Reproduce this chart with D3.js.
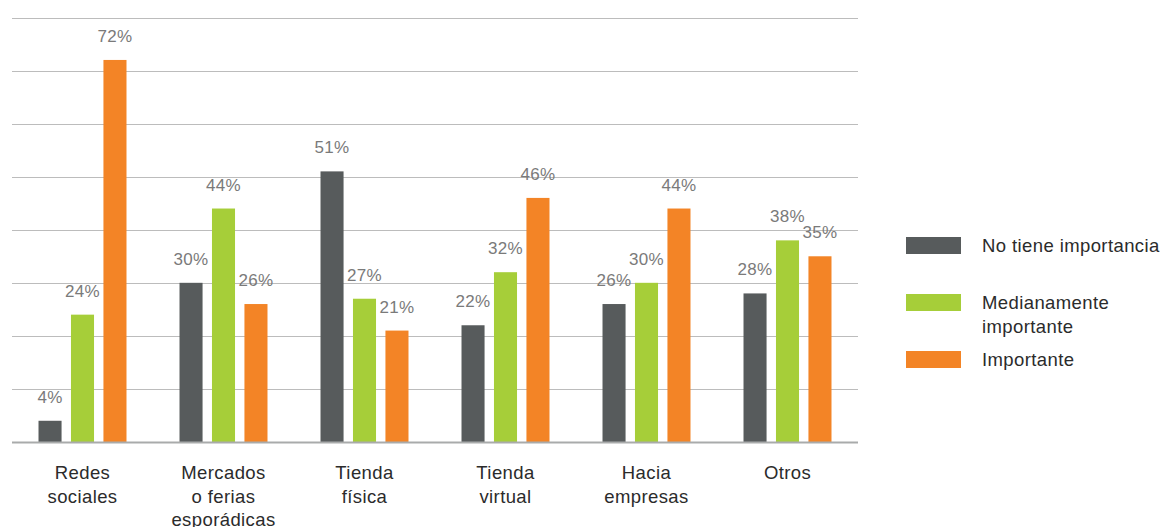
<!DOCTYPE html>
<html>
<head>
<meta charset="utf-8">
<script src="https://cdn.jsdelivr.net/npm/d3@7"></script>
<style>
  html, body { margin: 0; padding: 0; background: #fff; }
  svg, svg text { font-family: "Liberation Sans", Arimo, Arial, Helvetica, sans-serif; }
  svg { display: block; }
</style>
</head>
<body>
<svg id="chart" width="1164" height="527"></svg>
<script>
// Sales channels and the importance given to each
const categories = [
  ["Redes", "sociales"],
  ["Mercados", "o ferias", "esporádicas"],
  ["Tienda", "física"],
  ["Tienda", "virtual"],
  ["Hacia", "empresas"],
  ["Otros"]
];
const seriesNames = ["No tiene importancia", "Medianamente importante", "Importante"];
const legendLines = [["No tiene importancia"], ["Medianamente", "importante"], ["Importante"]];
const noImportancia = [4, 30, 51, 22, 26, 28];
const medianamente = [24, 44, 27, 32, 30, 38];
const importante = [72, 26, 21, 46, 44, 35];
const gridTicks = [0, 10, 20, 30, 40, 50, 60, 70, 80];
const colors = ["#575b5c", "#a6ce39", "#f38426"];

const values = [noImportancia, medianamente, importante];
const fontStack = "'Liberation Sans', Arimo, Arial, Helvetica, sans-serif";
const svg = d3.select("#chart").attr("font-family", fontStack);

const plotLeft = 12, plotRight = 858, plotTop = 17.5, plotBottom = 442;

const x0 = d3.scaleBand()
  .domain(d3.range(categories.length))
  .range([plotLeft, plotRight])
  .paddingInner(0.376)
  .paddingOuter(0.188);

const x1 = d3.scaleBand()
  .domain(d3.range(seriesNames.length))
  .range([0, x0.bandwidth()])
  .paddingInner(0.29)
  .paddingOuter(0);

const y = d3.scaleLinear().domain([0, 80]).range([plotBottom, plotTop]);

// Horizontal gridlines
svg.append("g")
  .selectAll("line")
  .data(gridTicks.filter(t => t > 0))
  .join("line")
  .attr("x1", plotLeft).attr("x2", plotRight)
  .attr("y1", d => Math.round(y(d)) + 0.5)
  .attr("y2", d => Math.round(y(d)) + 0.5)
  .attr("stroke", "#bcbcbc")
  .attr("stroke-width", 1.2);

// Bars
const groups = svg.append("g")
  .selectAll("g")
  .data(categories.map((c, i) => i))
  .join("g")
  .attr("transform", i => `translate(${x0(i)},0)`);

groups.selectAll("rect")
  .data(i => values.map((s, k) => ({ k, v: s[i] })))
  .join("rect")
  .attr("x", d => x1(d.k))
  .attr("width", x1.bandwidth())
  .attr("y", d => y(d.v))
  .attr("height", d => y(0) - y(d.v))
  .attr("fill", d => colors[d.k]);

groups.selectAll("text.val")
  .data(i => values.map((s, k) => ({ k, v: s[i] })))
  .join("text")
  .attr("class", "val")
  .attr("x", d => x1(d.k) + x1.bandwidth() / 2)
  .attr("y", d => y(d.v) - 18)
  .attr("text-anchor", "middle")
  .attr("font-size", 17)
  .attr("letter-spacing", 0.3)
  .attr("fill", "#7a7a7a")
  .text(d => d.v + "%");

// Baseline
svg.append("line")
  .attr("x1", plotLeft).attr("x2", plotRight)
  .attr("y1", plotBottom + 0.5).attr("y2", plotBottom + 0.5)
  .attr("stroke", "#a9abab")
  .attr("stroke-width", 2);

// Category labels
const catLabels = svg.append("g")
  .selectAll("text")
  .data(categories)
  .join("text")
  .attr("text-anchor", "middle")
  .attr("font-size", 18.5)
  .attr("letter-spacing", 0.4)
  .attr("fill", "#2b2b2b")
  .attr("transform", (d, i) => `translate(${x0(i) + x0.bandwidth() / 2},479)`);
catLabels.selectAll("tspan")
  .data(d => d)
  .join("tspan")
  .attr("x", 0)
  .attr("y", (d, j) => j * 23.5)
  .text(d => d);

// Legend
const legendY = [237, 294, 351];
const legend = svg.append("g")
  .selectAll("g")
  .data(seriesNames)
  .join("g")
  .attr("transform", (d, i) => `translate(906,${legendY[i]})`);
legend.append("rect")
  .attr("width", 55).attr("height", 17)
  .attr("fill", (d, i) => colors[i]);
const legendText = legend.append("text")
  .attr("x", 76)
  .attr("font-size", 18.5)
  .attr("letter-spacing", 0.4)
  .attr("fill", "#2b2b2b");
legendText.selectAll("tspan")
  .data((d, i) => legendLines[i])
  .join("tspan")
  .attr("x", 76)
  .attr("y", (d, j) => 15 + j * 24)
  .text(d => d);
</script>
</body>
</html>
